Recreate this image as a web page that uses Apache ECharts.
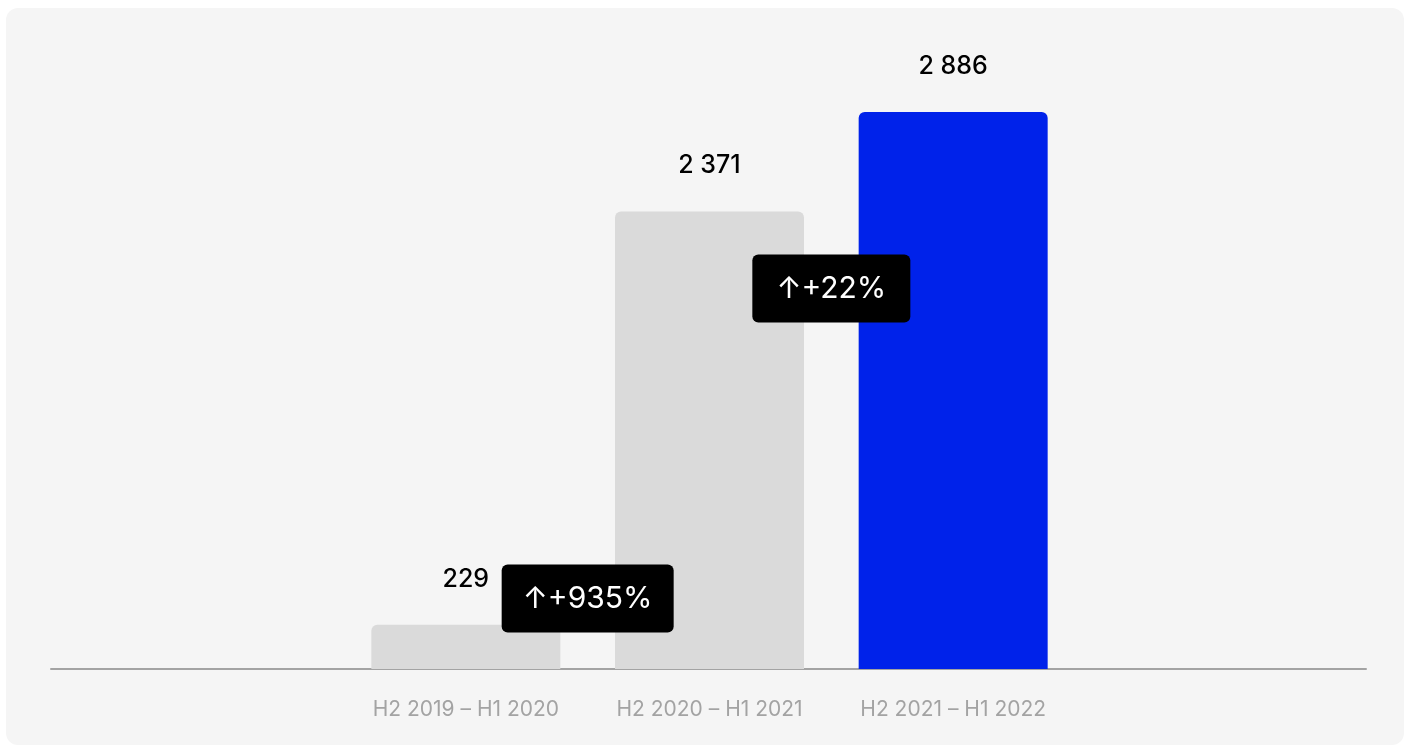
<!DOCTYPE html>
<html>
<head>
<meta charset="utf-8">
<script src="https://cdn.jsdelivr.net/npm/echarts@6/dist/echarts.min.js"></script>
<style>
  html, body { margin: 0; padding: 0; background: #ffffff; }
  #card {
    position: absolute; left: 6px; top: 8px; width: 1398px; height: 737px;
    background: #f5f5f5; border-radius: 12px;
  }
  #chart { position: absolute; left: 0; top: 0; width: 1405px; height: 747px; }
</style>
</head>
<body>
<div id="card"></div>
<div id="chart"></div>
<script>
// Twelve-month periods and their totals
const periods = ['H2 2019 – H1 2020', 'H2 2020 – H1 2021', 'H2 2021 – H1 2022'];
const totals = [229, 2371, 2886];
const barColors = ['#dadada', '#dadada', '#0022ea'];

// Period-over-period growth badges (placed between neighbouring bars)
const growthLabels = ['↑+935%', '↑+22%'];

const FONT = 'Inter, "Noto Sans", sans-serif';
const fmt = v => String(v).replace(/\B(?=(\d{3})+(?!\d))/g, ' ');

const chart = echarts.init(document.getElementById('chart'), null, { renderer: 'canvas' });

chart.setOption({
  backgroundColor: 'transparent',
  animation: false,
  grid: [
    { left: 344, right: 330, top: 90, bottom: 78 },
    { left: 51, right: 39, top: 90, bottom: 78 }
  ],
  xAxis: [
    {
      type: 'category', gridIndex: 0, data: periods,
      axisLine: { show: false }, axisTick: { show: false },
      axisLabel: { color: '#a3a3a3', fontSize: 21, fontFamily: FONT, margin: 30 }
    },
    {
      type: 'value', gridIndex: 1, min: 0, max: 1,
      axisLine: { show: true, onZero: false, lineStyle: { color: '#a3a3a3', width: 2 } },
      axisTick: { show: false }, axisLabel: { show: false }, splitLine: { show: false }
    }
  ],
  yAxis: [
    { type: 'value', gridIndex: 0, min: 0, max: 3000, show: false },
    { type: 'value', gridIndex: 1, min: 0, max: 1, show: false }
  ],
  series: [{
    type: 'bar',
    xAxisIndex: 0, yAxisIndex: 0,
    barWidth: 189,
    data: totals.map((v, i) => ({ value: v, itemStyle: { color: barColors[i] } })),
    itemStyle: { borderRadius: [6, 6, 0, 0] },
    label: {
      show: true, position: 'top', distance: 33,
      color: '#000', fontSize: 25, fontFamily: FONT, fontWeight: 500,
      formatter: p => fmt(p.value)
    }
  }]
});

// Badges sit midway between two bars; heights given in axis units
const badgeLevels = [365, 1971];
const badgeWidths = [172, 158];
const graphics = growthLabels.map((txt, i) => {
  const a = chart.convertToPixel({ xAxisIndex: 0 }, periods[i]);
  const b = chart.convertToPixel({ xAxisIndex: 0 }, periods[i + 1]);
  const y = chart.convertToPixel({ yAxisIndex: 0 }, badgeLevels[i]);
  const w = badgeWidths[i], h = 68;
  return {
    type: 'group', x: (a + b) / 2, y: y, zlevel: 1,
    children: [
      { type: 'rect', zlevel: 1, z: 10, shape: { x: -w / 2, y: -h / 2, width: w, height: h, r: 6 }, style: { fill: '#000' } },
      { type: 'text', zlevel: 1, z: 11, x: 0, y: 0, style: {
          text: txt, fill: '#fff', fontSize: 30, fontFamily: FONT,
          align: 'center', verticalAlign: 'middle'
      } }
    ]
  };
});
chart.setOption({ graphic: graphics });
</script>
</body>
</html>
